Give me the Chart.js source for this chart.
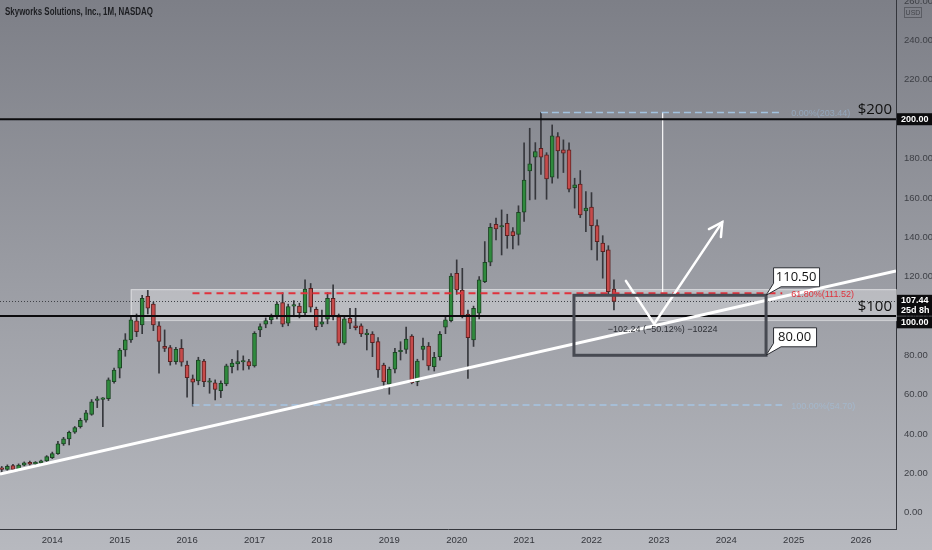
<!DOCTYPE html>
<html>
<head>
<meta charset="utf-8">
<script src="https://cdn.jsdelivr.net/npm/chart.js@4.4.0/dist/chart.umd.min.js"></script>
<style>
  html, body { margin: 0; padding: 0; background: #9a9ca3; }
  #wrap { width: 932px; height: 550px; position: relative; }
</style>
</head>
<body>
<div id="wrap"><canvas id="chart" width="932" height="550"></canvas></div>
<script>
// SWKS monthly candles, Apr 2013 .. May 2022
const firstYear = 2013, firstMonth = 3; // April
const open = [
  22.3, 22.0, 24.0, 21.7, 24.2, 25.6, 24.8, 25.4, 26.3,
  28.0, 30.0, 35.0, 37.5, 40.9, 43.7, 47.0, 50.0, 57.1, 57.6, 58.0, 66.6,
  73.4, 82.7, 87.8, 97.5, 95.4, 110.0, 106.0, 95.0, 84.5, 83.9, 76.8, 83.6,
  75.0, 68.0, 67.0, 77.0, 66.3, 66.0, 62.0, 65.4, 74.2, 75.6, 76.6, 76.8,
  74.6, 92.9, 95.8, 98.0, 99.6, 106.8, 96.3, 105.0, 105.0, 101.7, 114.0, 103.4,
  95.8, 98.3, 109.0, 99.6, 86.1, 98.8, 95.0, 95.0, 90.5, 90.8, 87.0, 75.0,
  65.3, 72.9, 81.8, 83.0, 89.8, 66.6, 83.0, 84.7, 74.2, 79.3, 94.3, 97.6,
  121.7, 113.2, 101.0, 87.8, 101.4, 117.4, 127.3, 146.6, 145.2, 147.1, 142.9, 141.5,
  152.7, 173.7, 180.7, 185.2, 181.9, 170.5, 191.2, 184.4, 184.4, 165.2, 167.0, 153.4,
  155.3, 145.9, 137.0, 133.6, 113.6
];
const high = [
  23.5, 24.3, 24.6, 24.8, 25.8, 26.2, 26.0, 26.7, 29.0,
  30.8, 36.3, 38.3, 41.5, 43.8, 48.0, 52.0, 57.5, 59.0, 58.5, 68.5, 73.5,
  83.5, 91.0, 99.5, 101.0, 110.5, 113.0, 107.0, 97.0, 92.9, 85.0, 84.0, 88.0,
  77.0, 70.0, 79.0, 78.0, 68.3, 67.5, 67.0, 75.5, 78.0, 82.4, 79.7, 78.0,
  92.0, 96.0, 99.0, 101.0, 107.0, 111.8, 106.0, 107.8, 106.5, 118.3, 116.5, 104.5,
  103.0, 111.8, 115.8, 101.0, 100.0, 103.9, 103.9, 96.0, 93.2, 92.0, 89.0, 76.0,
  74.0, 83.5, 86.9, 94.3, 90.5, 78.0, 88.7, 86.5, 81.5, 92.0, 99.5, 121.5,
  128.5, 124.2, 103.0, 105.0, 120.0, 137.8, 147.0, 149.7, 153.9, 151.7, 144.9, 156.0,
  188.0, 195.4, 188.1, 203.4, 183.0, 197.1, 193.2, 189.5, 188.0, 170.0, 173.9, 163.2,
  162.7, 148.8, 140.8, 135.7, 118.3
];
const low = [
  20.5, 21.5, 21.5, 21.3, 23.8, 24.2, 24.3, 25.0, 26.0,
  27.5, 29.6, 34.2, 34.4, 40.3, 43.0, 46.0, 49.5, 53.4, 43.7, 57.0, 65.8,
  68.5, 79.5, 86.5, 89.5, 91.0, 101.0, 92.5, 70.9, 81.9, 75.0, 75.5, 74.5,
  58.7, 54.2, 65.0, 64.0, 60.7, 57.3, 58.5, 64.5, 71.0, 72.5, 72.5, 73.0,
  74.0, 89.5, 94.0, 96.0, 98.5, 94.5, 95.0, 99.6, 99.0, 100.5, 102.0, 92.9,
  94.6, 96.0, 98.0, 85.0, 85.5, 93.5, 92.9, 89.5, 82.7, 79.3, 68.8, 63.2,
  60.2, 71.0, 77.6, 81.0, 65.5, 64.5, 77.6, 72.5, 72.0, 77.5, 91.0, 97.0,
  111.0, 99.0, 68.3, 84.5, 98.5, 116.9, 125.5, 138.6, 131.0, 134.4, 134.1, 136.0,
  148.0, 159.0, 159.3, 172.0, 159.3, 167.5, 170.0, 172.9, 163.0, 154.8, 150.0, 142.9,
  133.6, 128.4, 119.2, 110.7, 103.0
];
const close = [
  22.0, 23.5, 22.0, 24.2, 25.3, 24.6, 25.2, 26.3, 28.5,
  30.0, 35.0, 37.5, 40.9, 43.2, 47.0, 50.7, 56.4, 57.5, 58.0, 67.5, 72.5,
  82.7, 87.8, 98.0, 92.0, 109.0, 104.0, 95.4, 87.0, 83.5, 76.8, 83.0, 76.5,
  68.6, 66.3, 77.6, 66.6, 66.8, 62.7, 65.8, 74.6, 76.0, 76.8, 77.0, 74.6,
  91.2, 94.6, 97.6, 99.6, 106.0, 95.8, 104.7, 105.5, 101.7, 113.6, 104.4, 94.6,
  97.0, 109.0, 99.6, 86.1, 98.5, 96.3, 94.0, 90.8, 90.9, 86.4, 72.5, 66.6,
  72.9, 81.5, 82.5, 88.2, 66.1, 77.1, 84.7, 74.6, 79.0, 90.7, 98.0, 120.3,
  113.2, 100.0, 89.0, 103.9, 118.3, 127.3, 145.1, 144.2, 145.6, 140.8, 140.8, 152.7,
  169.1, 177.3, 183.5, 180.7, 169.7, 191.5, 183.9, 182.7, 164.4, 166.6, 151.3, 154.8,
  145.9, 137.8, 132.7, 112.4, 107.44
];
const months = open.map((_, i) => firstYear + (firstMonth + i) / 12);

// axes
const xMin = 2013.224, xMax = 2026.518;
const yMin = -8.3, yMax = 260.6;

// drawings
const keyLevels = [200, 100];
const keyLabels = ['$200', '$100'];
const lastPrice = 107.44;
const lastTimer = '25d 8h';
const fibLevels = [203.44, 111.52, 54.70];
const fibLabels = ['0.00%(203.44)', '61.80%(111.52)', '100.00%(54.70)'];
const fibStartX = [2021.25, 2016.08, 2016.08];
const fibEndX = 2024.83;
const fibVertX = 2023.056;
const trendX = [2013.224, 2026.518];
const trendY = [19.7, 122.9];
const zoneX = [2015.163, 2026.518];
const zoneY = [113.6, 97.9];
const boxX = [2021.74, 2024.59];
const boxY = [110.5, 80.0];
const boxCallouts = ['110.50', '80.00'];
const boxText = '\u2212102.24 (\u221250.12%) \u221210224';
const arrowX = [2022.51, 2022.93, 2023.94];
const arrowY = [117.8, 95.9, 147.7];

const GREEN = '#2f8a3d', RED = '#c64b4b';
const bodyFill = open.map((o, i) => close[i] >= o ? GREEN : RED);
const bodyEdge = open.map((o, i) => close[i] >= o ? '#1d4424' : '#5a2121');
const NARROW = "'Liberation Sans Narrow', 'Liberation Sans', sans-serif";

const seg = (xs, ys) => xs.map((x, i) => ({ x, y: ys[i] }));

const drawings = {
  id: 'drawings',
  beforeDraw(chart) {
    const { ctx, width, height } = chart;
    const g = ctx.createLinearGradient(0, 0, 0, height);
    g.addColorStop(0, '#7d7f87');
    g.addColorStop(1, '#b7b9bf');
    ctx.save();
    ctx.fillStyle = g;
    ctx.fillRect(0, 0, width, height);
    ctx.restore();
  },
  beforeDatasetsDraw(chart) {
    const { ctx, chartArea: a, scales: { x, y } } = chart;
    ctx.save();
    // light supply/demand zone
    const zx0 = x.getPixelForValue(zoneX[0]), zx1 = x.getPixelForValue(zoneX[1]);
    const zy0 = y.getPixelForValue(zoneY[0]), zy1 = y.getPixelForValue(zoneY[1]);
    ctx.fillStyle = 'rgba(255,255,255,0.3)';
    ctx.fillRect(zx0, zy0, zx1 - zx0, zy1 - zy0);
    ctx.strokeStyle = 'rgba(255,255,255,0.5)';
    ctx.lineWidth = 1;
    ctx.strokeRect(zx0 + 0.5, zy0 + 0.5, zx1 - zx0, zy1 - zy0);
    // last price dotted line
    const py = Math.round(y.getPixelForValue(lastPrice)) + 0.5;
    ctx.strokeStyle = '#3f4147';
    ctx.setLineDash([1, 2]);
    ctx.beginPath();
    ctx.moveTo(a.left, py);
    ctx.lineTo(a.right, py);
    ctx.stroke();
    ctx.restore();
  },
  afterDatasetsDraw(chart) {
    const { ctx, chartArea: a, scales: { x, y } } = chart;
    ctx.save();

    // target box
    const bx0 = x.getPixelForValue(boxX[0]), bx1 = x.getPixelForValue(boxX[1]);
    const by0 = y.getPixelForValue(boxY[0]), by1 = y.getPixelForValue(boxY[1]);
    ctx.strokeStyle = '#474a52';
    ctx.lineWidth = 3;
    ctx.strokeRect(bx0, by0, bx1 - bx0, by1 - by0);
    ctx.fillStyle = '#2e3036';
    ctx.font = '9px ' + NARROW;
    ctx.textAlign = 'center';
    ctx.textBaseline = 'middle';
    ctx.fillText(boxText, x.getPixelForValue(fibVertX), y.getPixelForValue(93.2));

    // callouts on the box corners
    boxCallouts.forEach((t, i) => {
      const ax = bx1, ay = i === 0 ? by0 : by1;
      const w = i === 0 ? 46 : 43, h = 19;
      const left = ax + 7, top = ay - 28;
      ctx.fillStyle = '#ffffff';
      ctx.strokeStyle = '#2b2d33';
      ctx.lineWidth = 1;
      ctx.beginPath();
      ctx.moveTo(left + 0.5, top + 0.5);
      ctx.lineTo(left + w + 0.5, top + 0.5);
      ctx.lineTo(left + w + 0.5, top + h + 0.5);
      ctx.lineTo(left + 8, top + h + 0.5);
      ctx.lineTo(ax, ay);
      ctx.lineTo(left + 0.5, top + h - 3);
      ctx.closePath();
      ctx.fill();
      ctx.stroke();
      ctx.fillStyle = '#111';
      ctx.font = '13px "Open Sans", sans-serif';
      ctx.textAlign = 'center';
      ctx.fillText(t, left + w / 2, top + h / 2 + 1);
    });

    // arrow head
    const tx = x.getPixelForValue(arrowX[2]), ty = y.getPixelForValue(arrowY[2]);
    const sx = x.getPixelForValue(arrowX[1]), sy = y.getPixelForValue(arrowY[1]);
    const ang = Math.atan2(ty - sy, tx - sx);
    ctx.strokeStyle = '#ffffff';
    ctx.lineWidth = 2.5;
    ctx.lineCap = 'round';
    ctx.beginPath();
    ctx.moveTo(tx - 15 * Math.cos(ang - 0.5), ty - 15 * Math.sin(ang - 0.5));
    ctx.lineTo(tx, ty);
    ctx.lineTo(tx - 15 * Math.cos(ang + 0.5), ty - 15 * Math.sin(ang + 0.5));
    ctx.stroke();

    // fib labels
    ctx.font = '9px ' + NARROW;
    ctx.textAlign = 'left';
    fibLabels.forEach((t, i) => {
      ctx.fillStyle = i === 1 ? '#e0323c' : 'rgba(160,200,235,0.45)';
      ctx.fillText(t, x.getPixelForValue(fibEndX) + 9, y.getPixelForValue(fibLevels[i]) + 1);
    });

    // key level labels
    ctx.fillStyle = '#111';
    ctx.font = '15px "Open Sans", sans-serif';
    ctx.textAlign = 'right';
    ctx.textBaseline = 'alphabetic';
    keyLevels.forEach((v, i) => {
      ctx.fillText(keyLabels[i], a.right - 4, y.getPixelForValue(v) - 5);
    });

    // title
    ctx.fillStyle = '#1c1d21';
    ctx.font = 'bold 10.5px "Liberation Sans", sans-serif';
    ctx.textAlign = 'left';
    ctx.textBaseline = 'middle';
    const title = 'Skyworks Solutions, Inc., 1M, NASDAQ';
    const tw = ctx.measureText(title).width;
    ctx.save();
    ctx.translate(5, 12);
    ctx.scale(148 / tw, 1);
    ctx.fillText(title, 0, 0);
    ctx.restore();

    // price axis badges
    const badge = (lines, cy, h) => {
      ctx.fillStyle = '#0c0c0e';
      ctx.fillRect(a.right + 1, cy - h / 2, 35, h);
      ctx.fillStyle = '#ffffff';
      ctx.font = 'bold 9px ' + NARROW;
      ctx.textAlign = 'left';
      ctx.textBaseline = 'middle';
      lines.forEach((t, k) => ctx.fillText(t, a.right + 5, cy - h / 2 + 6 + k * 10));
    };
    badge(['200.00'], y.getPixelForValue(200), 12);
    const lp = y.getPixelForValue(lastPrice);
    badge([lastPrice.toFixed(2), lastTimer], lp + 4, 21);
    badge(['100.00'], lp + 21, 12);

    // currency box
    ctx.strokeStyle = '#5a5c63';
    ctx.lineWidth = 1;
    ctx.strokeRect(a.right + 8.5, 7.5, 17, 10);
    ctx.fillStyle = '#44464c';
    ctx.font = '7px ' + NARROW;
    ctx.textAlign = 'center';
    ctx.fillText('USD', a.right + 17, 13);
    ctx.restore();
  }
};

new Chart(document.getElementById('chart'), {
  type: 'bar',
  data: {
    datasets: [
      { type: 'bar', order: 5, grouped: false, barThickness: 1,
        data: months.map((m, i) => ({ x: m, y: [low[i], high[i]] })),
        backgroundColor: '#36373c' },
      { type: 'bar', order: 4, grouped: false, barThickness: 4, minBarLength: 1.5,
        data: months.map((m, i) => ({ x: m, y: [open[i], close[i]] })),
        backgroundColor: bodyFill, borderColor: bodyEdge, borderWidth: 1, borderSkipped: false },
      // $200 / $100 levels
      ...keyLevels.map(v => ({ type: 'line', order: 2, data: seg([xMin, xMax], [v, v]),
        borderColor: '#0b0b0d', borderWidth: 2, pointRadius: 0 })),
      // fib levels
      ...fibLevels.map((v, i) => ({ type: 'line', order: 3, data: seg([fibStartX[i], fibEndX], [v, v]),
        borderColor: i === 1 ? '#e0323c' : 'rgba(165,200,232,0.9)',
        borderWidth: i === 1 ? 2 : 1.5, borderDash: i === 1 ? [7, 5] : [7, 4], pointRadius: 0 })),
      { type: 'line', order: 3, data: seg([fibVertX, fibVertX], [fibLevels[0], fibLevels[1]]),
        borderColor: 'rgba(255,255,255,0.6)', borderWidth: 1, pointRadius: 0 },
      // trend line
      { type: 'line', order: 1, data: seg(trendX, trendY),
        borderColor: '#ffffff', borderWidth: 3, pointRadius: 0 },
      // projected path
      { type: 'line', order: 0, data: seg(arrowX, arrowY),
        borderColor: '#ffffff', borderWidth: 2.5, pointRadius: 0, borderCapStyle: 'round' }
    ]
  },
  options: {
    responsive: false,
    animation: false,
    devicePixelRatio: 1,
    layout: { padding: 0 },
    plugins: { legend: { display: false }, tooltip: { enabled: false }, title: { display: false } },
    scales: {
      x: {
        type: 'linear', min: xMin, max: xMax, offset: false,
        afterFit(s) { s.height = 21; s.paddingLeft = 0; s.paddingRight = 0; },
        grid: { display: false, drawTicks: false },
        border: { display: true, color: '#34363c', width: 1 },
        ticks: { stepSize: 1, includeBounds: false, padding: 6, maxRotation: 0, autoSkip: false,
          color: '#34363c', font: { family: NARROW, size: 9.5 },
          callback: v => String(Math.round(v)) }
      },
      y: {
        type: 'linear', position: 'right', min: yMin, max: yMax,
        afterFit(s) { s.width = 36; s.paddingTop = 0; s.paddingBottom = 0; },
        grid: { display: false, drawTicks: false },
        border: { display: true, color: '#34363c', width: 1 },
        ticks: { stepSize: 20, includeBounds: false, padding: 8,
          color: '#3d3f45', font: { family: NARROW, size: 9.5 },
          callback: v => Number(v).toFixed(2) }
      }
    }
  },
  plugins: [drawings]
});
</script>
</body>
</html>
